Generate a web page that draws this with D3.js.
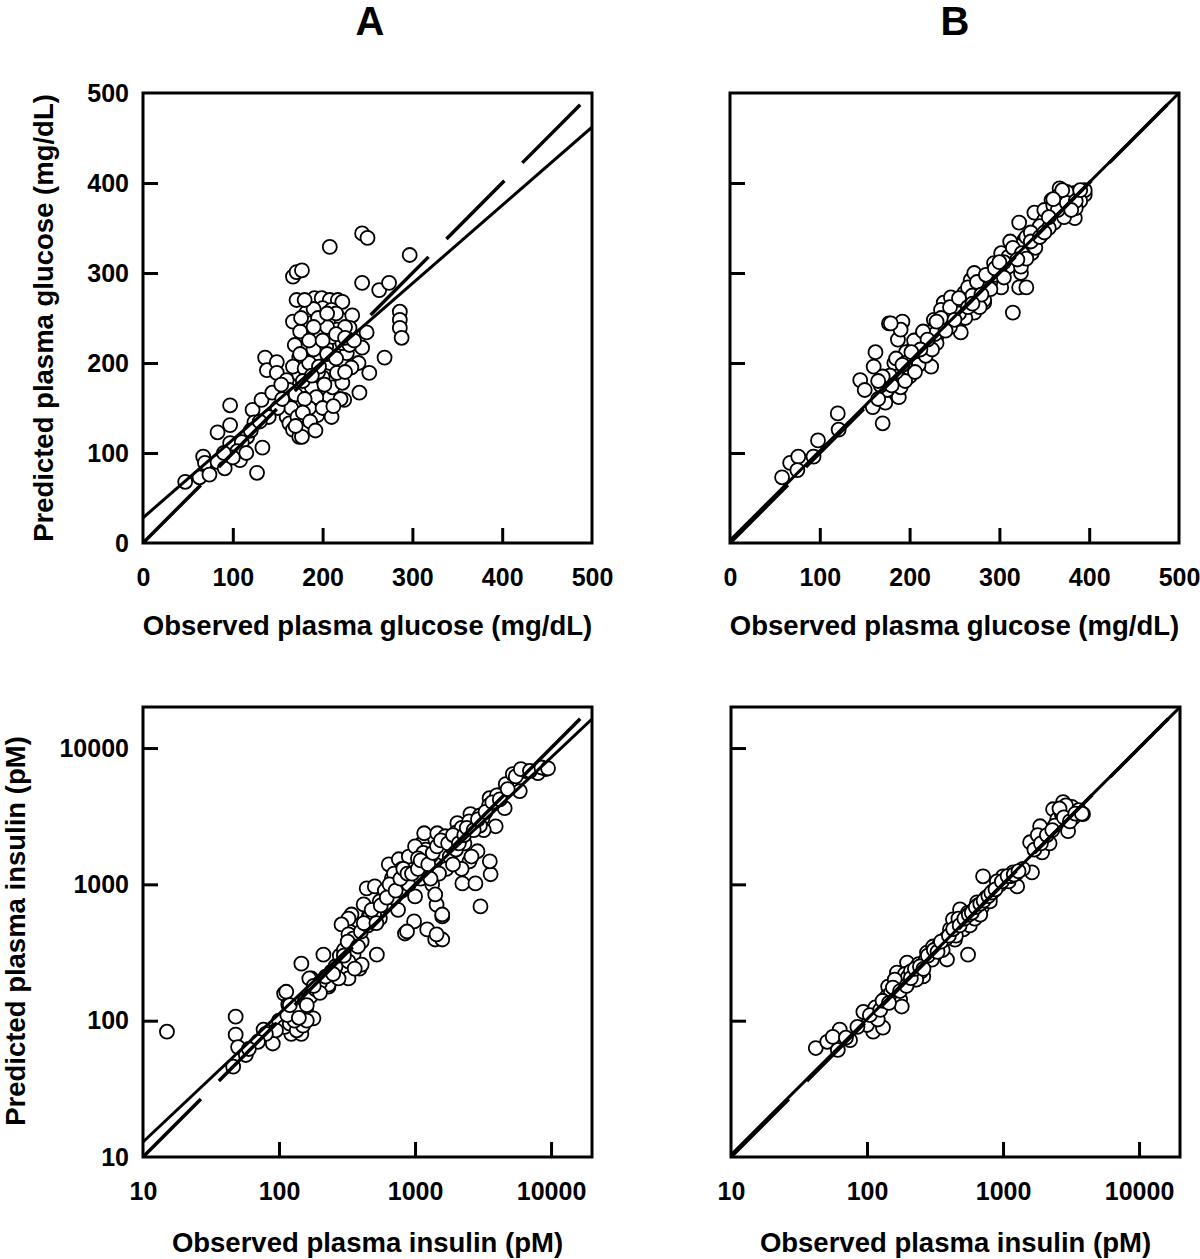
<!DOCTYPE html>
<html>
<head>
<meta charset="utf-8">
<script src="https://cdn.jsdelivr.net/npm/d3@7"></script>
<style>
  body { margin: 0; background: #fff; }
  svg { display: block; font-family: "Liberation Sans", Arial, sans-serif; font-weight: bold; }
</style>
</head>
<body>
<svg id="chart" width="1200" height="1259"></svg>
<script>
// observed vs predicted, one [observed, predicted] pair per sample
const glucoseA = [
  [47,68],[63,73],[67,96],[69,89],[74,76],[83,90],[91,83],[83,123],[97,131],[97,153],
  [97,111],[108,92],[116,118],[127,78],[122,148],[124,134],[133,106],[132,159],[136,206],[138,192],
  [149,201],[144,167],[149,189],[160,181],[160,140],[163,133],[167,126],[174,118],[167,296],[171,301],
  [177,303],[208,329],[244,344],[250,339],[171,270],[167,246],[191,272],[199,272],[208,270],[217,270],
  [222,268],[182,256],[197,248],[210,246],[221,248],[233,253],[230,239],[249,234],[244,217],[244,289],
  [263,281],[274,289],[297,320],[286,257],[286,248],[286,239],[288,228],[269,206],[252,189],[241,167],
  [224,159],[208,162],[194,142],[189,229],[204,218],[227,211],[174,206],[191,206],[174,187],[188,173],
  [200,184],[211,173],[222,178],[160,156],[174,157],[182,128],[177,118],[193,162],[208,200],[216,189],
  [183,220],[169,220],[163,170],[167,196],[154,176],[180,194],[197,234],[211,229],[222,222],[200,261],
  [210,259],[216,237],[186,244],[230,220],[185,200],[195,190],[205,210],[215,205],[190,215],[178,180],
  [170,165],[185,150],[200,150],[210,140],[180,160],[195,230],[205,240],[175,235],[215,255],[225,240],
  [190,260],[180,270],[110,112],[120,125],[105,102],[165,150],[172,140],[178,145],[186,135],[192,125],
  [170,130],[175,210],[185,225],[195,250],[205,255],[215,232],[225,228],[235,225],[240,200],[232,195],
  [220,160],[212,152],[196,196],[188,186],[202,176],[150,150],[155,160],[140,140],[130,135],[115,100],
  [100,95],[90,100],[200,225],[190,240],[176,250],[225,190]
];

const glucoseB = [
  [58,73],[67,89],[76,96],[75,81],[93,96],[98,114],[120,144],[121,126],[145,181],[159,151],
  [170,133],[160,196],[162,212],[177,244],[192,246],[187,226],[190,237],[173,156],[188,162],[181,181],
  [190,173],[198,189],[205,203],[205,218],[213,229],[220,214],[224,196],[227,248],[235,240],[243,256],
  [254,244],[257,234],[238,267],[261,278],[268,292],[272,256],[283,267],[291,300],[302,300],[315,256],
  [322,284],[330,284],[324,300],[322,356],[339,367],[367,394],[369,384],[384,389],[395,387],[384,361],
  [358,381],[355,367],[343,348],[361,356],[372,362],[377,373],[328,337],[317,322],[302,322],[294,311],
  [310,307],[324,307],[336,322],[341,337],[287,292],[272,300],[265,284],[246,273],[235,259],[249,256],
  [283,270],[302,284],[179,244],[350,359],[395,392],[200,200],[210,208],[215,222],[230,230],[240,245],
  [250,262],[260,268],[270,275],[280,285],[290,290],[300,305],[310,318],[320,330],[330,340],[345,352],
  [350,370],[360,375],[370,380],[380,385],[390,380],[385,372],[375,390],[365,370],[355,350],[340,328],
  [335,345],[312,335],[305,312],[295,298],[285,282],[278,262],[262,250],[255,255],[245,240],[230,222],
  [222,234],[210,198],[200,185],[195,180],[185,190],[175,170],[165,160],[183,200],[196,212],[206,190],
  [218,208],[228,232],[178,186],[168,175],[185,205],[195,200],[205,225],[215,235],[225,215],[235,250],
  [245,262],[255,272],[265,262],[275,290],[285,298],[295,305],[305,295],[315,328],[325,322],[335,335],
  [345,340],[355,362],[365,385],[375,378],[385,380],[390,392],[380,370],[370,392],[360,382],[350,345],
  [330,316],[320,315],[300,312],[290,282],[280,276],[270,266],[250,248],[240,236],[230,246],[220,226],
  [212,215],[202,212],[192,198],[180,175],[170,185],[150,170],[165,180]
];

const insulinA = [
  [15,83],[48,107],[48,79],[50,64],[57,56],[46,46],[77,86],[90,68],[109,158],[123,80],
  [146,80],[146,262],[212,305],[173,204],[158,122],[146,104],[179,104],[129,116],[117,131],[231,178],
  [243,229],[324,204],[391,241],[524,305],[353,305],[385,381],[330,451],[341,601],[456,582],[551,562],
  [843,436],[984,535],[1228,467],[1407,394],[1585,394],[1440,430],[1585,582],[1440,710],[3027,689],[113,163],
  [167,204],[231,184],[324,272],[385,368],[441,935],[419,713],[506,966],[467,582],[641,1403],[760,1528],
  [676,1107],[843,1052],[951,1403],[1127,2000],[1167,2370],[1456,2370],[1667,2254],[1585,1476],[1186,1288],[1000,816],
  [1337,1000],[1407,843],[1585,601],[873,451],[2228,1016],[2780,1016],[3594,1186],[3546,1476],[2877,1750],[2512,1476],
  [2307,2000],[2047,2812],[2553,3273],[3133,3055],[3917,2667],[3532,4285],[4560,3622],[4645,5433],[5234,6436],[6531,6776],
  [8010,6546],[9183,7015],[5890,4830],[4240,4530],[324,560],[288,508],[324,430],[405,380],[405,258],[360,241],
  [274,204],[100,100],[110,90],[120,95],[135,85],[150,92],[160,100],[140,120],[155,140],[170,150],
  [185,170],[200,190],[130,100],[115,110],[95,85],[80,80],[70,70],[60,62],[200,160],[220,210],
  [260,250],[280,300],[300,330],[350,400],[400,450],[450,500],[500,600],[600,700],[700,800],[800,900],
  [900,1000],[1100,1100],[1200,1300],[1400,1500],[1600,1700],[1800,2100],[2000,2400],[2200,2600],[2500,2900],[3000,3200],
  [3500,3800],[4000,4500],[1800,1600],[2000,1800],[1200,1800],[900,1600],[1000,1900],[800,1300],[700,1200],[600,900],
  [550,750],[650,1000],[750,650],[2200,1300],[2600,1600],[3200,2500],[3000,2700],[5500,6200],[6000,7000],[7000,6800],
  [8500,7200],[9500,7100],[1700,1300],[1300,1600],[1900,1400],[1500,1200],[1300,1100],[1150,1700],[1050,1550],[300,300],
  [320,380],[380,350],[420,520],[480,650],[520,520],[560,700],[620,800],[720,900],[780,1100],[820,1300],
  [880,1200],[950,1200],[1050,1300],[1100,1500],[1250,1400],[1350,1700],[1450,1900],[1550,2100],[1750,2000],[1900,2300],
  [2100,2000],[2300,2300],[2400,2600],[2700,2500],[2900,3000],[3300,3400],[3700,4000],[4200,4200],[4800,5000],[250,220],
  [180,180],[160,130],[140,105],[120,130]
];

const insulinB = [
  [42,63],[51,70],[61,61],[63,86],[56,76],[75,72],[94,116],[115,125],[111,83],[131,89],
  [100,93],[120,102],[143,178],[166,225],[175,143],[180,127],[197,267],[233,249],[259,211],[276,316],
  [306,350],[387,281],[553,305],[407,467],[443,393],[428,554],[483,655],[553,620],[510,467],[644,738],
  [713,1146],[802,816],[903,966],[1000,1146],[1186,1225],[1270,966],[1633,1225],[1581,2037],[1873,2668],[1938,1717],
  [2333,3556],[2763,4010],[3200,3700],[3007,2455],[3873,3273],[70,75],[85,90],[105,110],[125,120],[140,150],
  [150,160],[160,170],[170,190],[185,200],[190,220],[200,210],[210,230],[220,200],[240,260],[250,230],
  [270,280],[290,300],[320,310],[340,360],[360,330],[380,400],[420,430],[460,500],[500,540],[540,560],
  [600,640],[650,700],[700,680],[750,800],[850,900],[950,1000],[1050,1100],[1100,1050],[1150,1150],[1250,1200],
  [1400,1300],[1700,1800],[2000,2200],[2200,2000],[2500,3000],[2700,3300],[3000,3500],[3300,3100],[3600,3500],[2900,3800],
  [2600,3600],[1800,2300],[160,200],[230,200],[300,280],[450,420],[470,560],[570,500],[620,560],[680,600],
  [800,750],[900,1050],[130,140],[145,135],[155,175],[175,165],[195,180],[210,205],[225,240],[245,250],
  [260,240],[280,300],[310,330],[330,320],[350,380],[400,420],[430,470],[480,500],[520,560],[560,600],
  [590,620],[630,680],[680,720],[720,760],[780,820],[820,870],[880,920],[980,1050],[1080,1150],[1200,1180],
  [1300,1250],[1900,2000],[2100,2300],[2400,2700],[2800,3100],[3100,2900],[3400,3300],[3800,3300],[2300,2500]
];

const glucoseTicks = [0, 100, 200, 300, 400, 500];
const insulinTicks = [10, 100, 1000, 10000];

// regression lines (solid); identity line is dashed
const glucoseFitA = { intercept: 28, slope: 0.868 };
const glucoseFitB = { intercept: 3, slope: 0.994 };
const insulinFitA = { factor: 1.479, power: 0.94 };
const insulinFitB = { factor: 1.05, power: 0.995 };

const W = 449, H = 450;
const svg = d3.select("#chart");

const drawPanel = (p) => {
  const x = p.log ? d3.scaleLog().domain([10, 20000]) : d3.scaleLinear().domain([0, 500]);
  const y = p.log ? d3.scaleLog().domain([10, 20000]) : d3.scaleLinear().domain([0, 500]);
  x.range([0, W]);
  y.range([H, 0]);
  const ticks = p.log ? insulinTicks : glucoseTicks;
  const inner = ticks.filter((t) => t !== x.domain()[0] && t !== x.domain()[1]);

  const g = svg.append("g").attr("transform", `translate(${p.left},${p.top})`);

  g.append("clipPath").attr("id", `clip_${p.id}`)
    .append("rect").attr("width", W).attr("height", H);

  g.append("g")
    .selectAll("circle")
    .data(p.data)
    .enter()
    .append("circle")
    .attr("cx", (d) => x(d[0]))
    .attr("cy", (d) => y(d[1]))
    .attr("r", 7)
    .attr("fill", "#fff")
    .attr("stroke", "#000")
    .attr("stroke-width", 1.8);

  const [d0, d1] = x.domain();
  const line = d3.line().x((d) => x(d[0])).y((d) => y(d[1]));
  const lines = g.append("g").attr("clip-path", `url(#clip_${p.id})`);

  lines.append("path")
    .attr("d", line([[d0, d0], [d1, d1]]))
    .attr("fill", "none")
    .attr("stroke", "#000")
    .attr("stroke-width", 3.5)
    .attr("stroke-dasharray", "82,25.4");

  lines.append("path")
    .attr("d", line([[d0, p.fit(d0)], [d1, p.fit(d1)]]))
    .attr("fill", "none")
    .attr("stroke", "#000")
    .attr("stroke-width", 3);

  // inward tick marks
  const tickStyle = (sel) => {
    sel.select(".domain").remove();
    sel.selectAll("line").attr("stroke-width", 3);
  };
  g.append("g").attr("transform", `translate(0,${H})`)
    .call(d3.axisBottom(x).tickValues(inner).tickSize(-15).tickFormat(""))
    .call(tickStyle);
  g.append("g")
    .call(d3.axisLeft(y).tickValues(inner).tickSize(-15).tickFormat(""))
    .call(tickStyle);

  // tick labels
  const labelStyle = (sel) => {
    sel.select(".domain").remove();
    sel.attr("font-family", null).attr("font-size", 25);
    sel.selectAll("text").attr("fill", "#000");
  };
  const fmt = d3.format("d");
  g.append("g").attr("transform", `translate(0,${H})`)
    .call(d3.axisBottom(x).tickValues(ticks).tickSize(0).tickPadding(25).tickFormat(fmt))
    .call(labelStyle);
  if (p.yLabels) {
    g.append("g")
      .call(d3.axisLeft(y).tickValues(ticks).tickSize(0).tickPadding(14).tickFormat(fmt))
      .call(labelStyle);
  }

  g.append("rect")
    .attr("width", W)
    .attr("height", H)
    .attr("fill", "none")
    .attr("stroke", "#000")
    .attr("stroke-width", 3);

  g.append("text")
    .attr("x", W / 2)
    .attr("y", p.log ? 95 + H : 92 + H)
    .attr("text-anchor", "middle")
    .style("font-size", "27.5px")
    .text(p.xTitle);
};

const panels = [
  { id: "gA", left: 143, top: 93, log: false, yLabels: true, data: glucoseA,
    fit: (v) => glucoseFitA.intercept + glucoseFitA.slope * v,
    xTitle: "Observed plasma glucose (mg/dL)" },
  { id: "gB", left: 730, top: 93, log: false, yLabels: false, data: glucoseB,
    fit: (v) => glucoseFitB.intercept + glucoseFitB.slope * v,
    xTitle: "Observed plasma glucose (mg/dL)" },
  { id: "iA", left: 143, top: 707, log: true, yLabels: true, data: insulinA,
    fit: (v) => insulinFitA.factor * Math.pow(v, insulinFitA.power),
    xTitle: "Observed plasma insulin (pM)" },
  { id: "iB", left: 731, top: 707, log: true, yLabels: false, data: insulinB,
    fit: (v) => insulinFitB.factor * Math.pow(v, insulinFitB.power),
    xTitle: "Observed plasma insulin (pM)" }
];

panels.forEach(drawPanel);

// column letters
svg.append("text").attr("x", 370).attr("y", 35).attr("text-anchor", "middle")
  .style("font-size", "40px").text("A");
svg.append("text").attr("x", 955).attr("y", 35).attr("text-anchor", "middle")
  .style("font-size", "40px").text("B");

// y titles
svg.append("text")
  .attr("transform", "translate(53,318) rotate(-90)")
  .attr("text-anchor", "middle")
  .style("font-size", "27.5px")
  .text("Predicted plasma glucose (mg/dL)");
svg.append("text")
  .attr("transform", "translate(25,931) rotate(-90)")
  .attr("text-anchor", "middle")
  .style("font-size", "27.5px")
  .text("Predicted plasma insulin (pM)");
</script>
</body>
</html>
